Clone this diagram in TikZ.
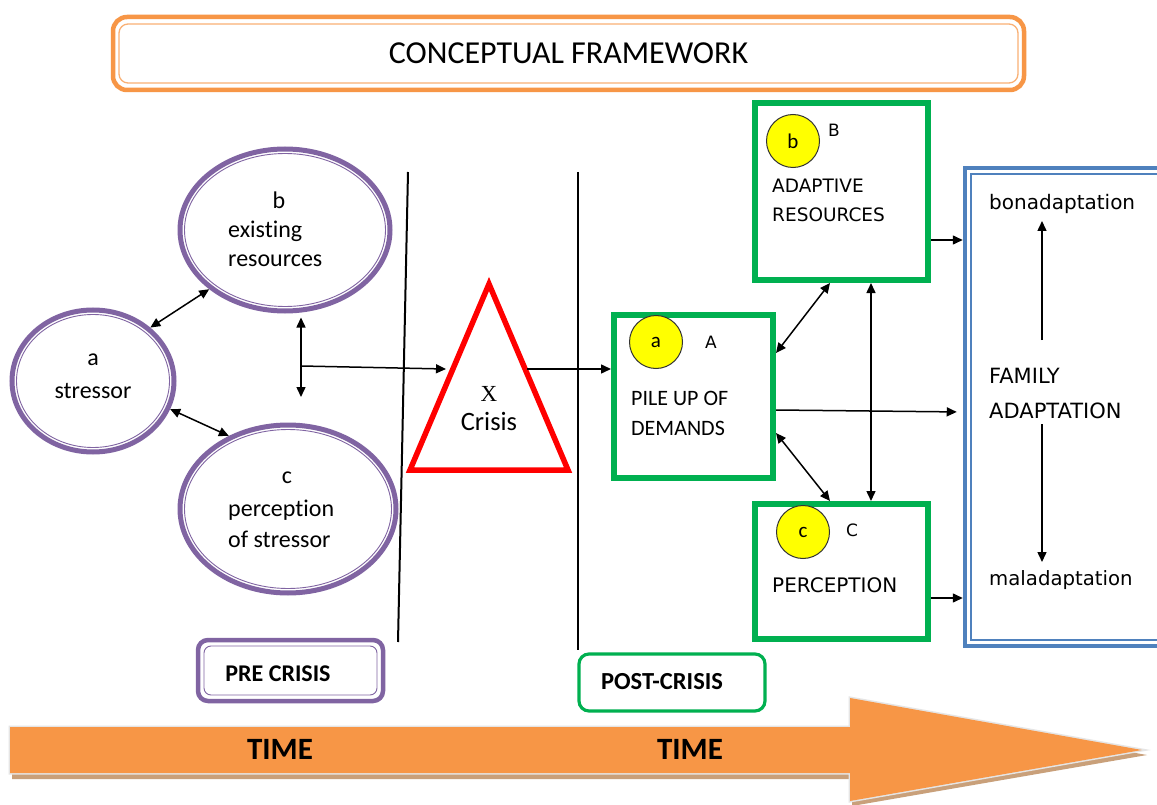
\documentclass[tikz,border=0pt]{standalone}
\usepackage{fontspec}
\setmainfont{Carlito}[RawFeature=-liga]
\newfontfamily\dvfont{DejaVu Sans}
\newfontfamily\serfont{Liberation Serif}
\usetikzlibrary{shapes.geometric,arrows.meta,calc}
\definecolor{forange}{HTML}{F79646}
\definecolor{fpurple}{HTML}{8064A2}
\definecolor{fgreen}{HTML}{00B050}
\definecolor{fblue}{HTML}{4F81BD}
\definecolor{fred}{HTML}{FF0000}
\definecolor{fyellow}{HTML}{FFFF00}
\definecolor{fshadow}{HTML}{C9A07A}
\begin{document}
\begin{tikzpicture}[x=1pt,y=-1pt,
  fs/.style={font=\fontsize{#1}{#1}\selectfont},
  dfs/.style={font=\dvfont\fontsize{#1}{#1}\selectfont},
  arr/.style={line width=1.5pt,-{Triangle[length=10pt,width=9pt]}},
  darr/.style={line width=1.5pt,{Triangle[length=10pt,width=9pt]}-{Triangle[length=10pt,width=9pt]}},
  pell/.style={ellipse,draw=fpurple,line width=5pt,inner sep=0pt},
  gbox/.style={rectangle,draw=fgreen,line width=6pt,inner sep=0pt},
  ycirc/.style={circle,draw=black!80,fill=fyellow,line width=1pt,minimum size=53pt,inner sep=0pt,fs=21},
  txt/.style={inner sep=0pt,anchor=west}
]
\useasboundingbox (0,0) rectangle (1157,805);
\clip (0,0) rectangle (1157,805);
\fill[white] (0,0) rectangle (1157,805);

% title
\node[draw=forange,line width=4.5pt,rounded corners=14pt,minimum width=911pt,minimum height=73pt,fs=32] (title) at (568.5,53.5) {CONCEPTUAL FRAMEWORK};
\draw[forange!75,line width=1.3pt,rounded corners=9pt] (119,24) rectangle (1018,83);

% ellipses
\node[pell,minimum width=210pt,minimum height=162pt] (b) at (285,230) {};
\draw[fpurple,line width=0.9pt] (b.center) ellipse [x radius=100.5pt,y radius=76.5pt];
\node[pell,minimum width=162pt,minimum height=142pt] (a) at (93,381) {};
\draw[fpurple,line width=0.9pt] (a.center) ellipse [x radius=76.5pt,y radius=66.5pt];
\node[pell,minimum width=216pt,minimum height=168pt] (c) at (288,509) {};
\draw[fpurple,line width=0.9pt] (c.center) ellipse [x radius=103.5pt,y radius=79.5pt];

\node[fs=24] (bl) at (279,200) {b};
\node[txt,fs=24] (bt1) at (228,231) {existing};
\node[txt,fs=24] (bt2) at (228,261) {resources};
\node[fs=24] (al) at (93,360) {a};
\node[fs=24] (at1) at (93,391) {stressor};
\node[fs=24] (cl) at (287,478) {c};
\node[txt,fs=24] (ct1) at (228,510) {perception};
\node[txt,fs=24] (ct2) at (228,539) {of stressor};

% separator lines
\draw[line width=2pt] (408,172) -- (398,642);
\draw[line width=2pt] (578,172) -- (578,650);

% crisis triangle
\draw[fred,line width=5.5pt] (489,284) -- (410,470) -- (568,470) -- cycle;
\coordinate (triL) at (446,369);
\coordinate (triR) at (527,369);
\node[font=\serfont\fontsize{23}{23}\selectfont] (xl) at (489,394) {X};
\node[fs=26.5] (crl) at (489,421) {Crisis};

% pre-crisis connectors
\draw[darr] (a.43) -- (b.218);
\draw[darr] (a.-20) -- (c.129);
\coordinate (bj) at (301,366);
\coordinate (bd) at (301,397);
\draw[darr,shorten <=4pt] (b.south -| bj) -- (bd);
\draw[arr] (bj) -- (triL);

% post-crisis boxes
\node[gbox,minimum width=159pt,minimum height=163pt] (A) at (693.5,396.5) {};
\node[gbox,minimum width=173pt,minimum height=177pt] (B) at (841.5,191.5) {};
\node[gbox,minimum width=173pt,minimum height=135pt] (C) at (841.5,571.5) {};

\node[ycirc] (ca) at (656,342) {a};
\node[dfs=17] (Al) at (711,342) {A};
\node[txt,fs=22] (At1) at (631,398) {PILE UP OF};
\node[txt,fs=22] (At2) at (631,428) {DEMANDS};

\node[ycirc] (cb) at (793,141) {b};
\node[dfs=17] (Bl) at (834,130) {B};
\node[txt,dfs=18.5] (Bt1) at (772,186) {ADAPTIVE};
\node[txt,dfs=18.5] (Bt2) at (772,215) {RESOURCES};

\node[ycirc] (cc) at (803,532) {c};
\node[dfs=17] (Cl) at (852,530) {C};
\node[txt,dfs=20] (Ct1) at (772,585) {PERCEPTION};

% family adaptation box
\node[rectangle,draw=fblue,line width=4.5pt,minimum width=210pt,minimum height=478pt,inner sep=0pt] (F) at (1070,407) {};
\draw[fblue,line width=1.2pt] (971,174) rectangle (1180,640);
\node[txt,dfs=20] (bon) at (989,204) {bonadaptation};
\node[txt,dfs=21] (fam1) at (989,376) {FAMILY};
\node[txt,dfs=21] (fam2) at (989,411) {ADAPTATION};
\node[txt,dfs=19.7] (mal) at (989,580) {maladaptation};
\coordinate (u1) at (1042,340);
\coordinate (u2) at (1042,221);
\coordinate (d1) at (1042,424);
\coordinate (d2) at (1042,562);
\draw[arr] (u1) -- (u2);
\draw[arr] (d1) -- (d2);

% connectors
\draw[arr] (triR) -- (A.west |- triR);
\draw[darr] (A.east |- 0,353) -- (B.south -| 830,0);
\draw[darr] (A.east |- 0,433) -- (C.north -| 830,0);
\draw[darr] (B.south -| 871,0) -- (C.north -| 871,0);
\draw[arr] (B.east |- 0,240) -- (F.west |- 0,240);
\draw[arr] (C.east |- 0,598) -- (F.west |- 0,598);
\draw[arr,shorten >=6pt] (A.east |- 0,410) -- (F.west |- 0,412);

% phase boxes
\node[draw=fpurple,line width=4.5pt,rounded corners=10pt,minimum width=185pt,minimum height=61pt] (pre) at (290.5,670.5) {};
\draw[fpurple,line width=0.9pt,rounded corners=7pt] (204,646) rectangle (377,695);
\node[font=\bfseries\fontsize{24}{24}\selectfont] (pret) at (278,674) {PRE CRISIS};
\node[draw=fgreen,line width=3.2pt,rounded corners=10pt,minimum width=186pt,minimum height=57pt] (post) at (672,682.5) {};
\node[font=\bfseries\fontsize{24.5}{24.5}\selectfont] (postt) at (662,682) {POST-CRISIS};

% time arrow
\fill[fshadow] (12,732) -- (852,732) -- (852,703) -- (1147,755) -- (852,806) -- (852,779) -- (12,779) -- cycle;
\draw[black!10,line width=3pt,line join=miter] (10,727) -- (850,727) -- (850,698) -- (1142,750) -- (850,801) -- (850,773) -- (10,773) -- cycle;
\fill[forange] (10,727) -- (850,727) -- (850,698) -- (1142,750) -- (850,801) -- (850,773) -- (10,773) -- cycle;
\node[font=\bfseries\fontsize{31}{31}\selectfont] (time1) at (280,749) {TIME};
\node[font=\bfseries\fontsize{31}{31}\selectfont] (time2) at (690,749) {TIME};
\end{tikzpicture}
\end{document}
